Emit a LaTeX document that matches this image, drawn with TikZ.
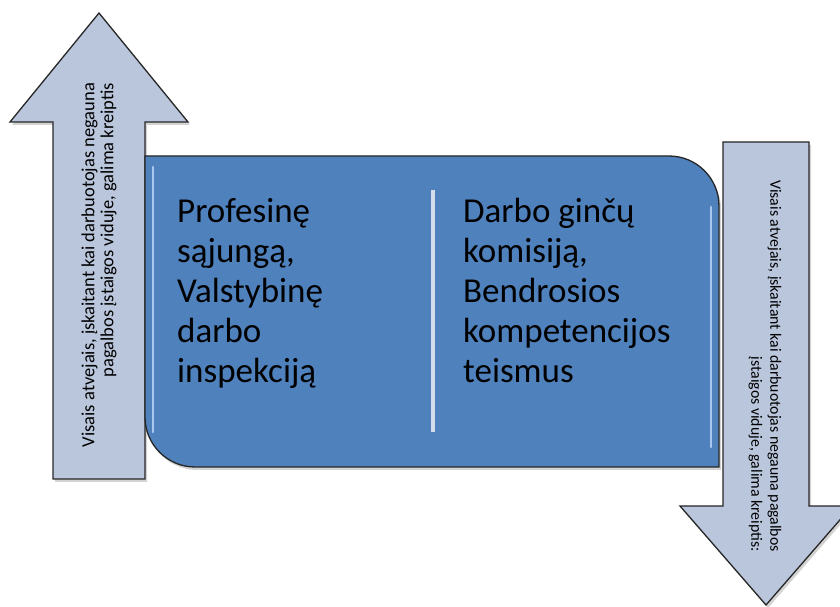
\documentclass[tikz,border=0pt]{standalone}
\usepackage{fontspec}
\setmainfont{Carlito}
\usetikzlibrary{positioning, shadows}
\definecolor{boxblue}{HTML}{4F81BD}
\definecolor{arrowgray}{HTML}{BAC6DC}
\definecolor{divider}{HTML}{D3DDEC}
\definecolor{glow}{HTML}{A8C8F0}
\tikzset{
bigarrow/.style={draw=black!85, line width=1.3pt, fill=arrowgray, drop shadow={opacity=0.35, shadow xshift=2pt, shadow yshift=-3pt}}, % the two wide arrows
maintext/.style={font=\fontsize{35}{40}\selectfont, align=left, inner sep=0pt, text=black}, % text inside the blue box
sidetext/.style={inner sep=0pt, align=right, text=black}, % text on the arrows
}

\begin{document}
\begin{tikzpicture}[x=1pt, y=1pt]
    \useasboundingbox (0,0) rectangle (840,607);

    % arrows
    \draw[bigarrow] (53,128) -- (53,485) -- (10,485) -- (99,594) -- (188,485) -- (145,485) -- (145,128) -- cycle;
    \draw[bigarrow] (723,465) -- (809,465) -- (809,101) -- (852,101) -- (766,2) -- (680,101) -- (723,101) -- cycle;

    % blue box
    \draw[draw=black!85, line width=1.3pt, fill=boxblue, drop shadow={opacity=0.35, shadow xshift=2pt, shadow yshift=-3pt}]
        (145,451) -- (669,451) arc[start angle=90, end angle=0, radius=50] -- (719,140) -- (195,140)
        arc[start angle=270, end angle=180, radius=50] -- cycle;
    \draw[glow, line width=2.5pt, line cap=round] (153,440) -- (153,175);
    \draw[glow, line width=2.5pt, line cap=round] (711,400) -- (711,160);

    % divider
    \coordinate (divtop) at (433,417);
    \coordinate (divbot) at (433,175);
    \draw[divider, line width=3.5pt] (divtop) -- (divbot);

    % texts (base = last line)
    \node[maintext, anchor=base west] (profesine) at (177,224) {Profesinę\\sąjungą,\\Valstybinę\\darbo\\inspekciją};
    \node[maintext, anchor=base west] (darbo) at (463,224) {Darbo ginčų\\komisiją,\\Bendrosios\\kompetencijos\\teismus};

    \node[sidetext, rotate=90, font=\fontsize{18.5}{19}\selectfont] (visaisL) at (99,342)
        {Visais atvejais, įskaitant kai darbuotojas negauna\\pagalbos įstaigos viduje, galima kreiptis};
    \node[sidetext, rotate=-90, font=\fontsize{15.8}{19}\selectfont] (visaisR) at (765,241)
        {Visais atvejais, įskaitant kai darbuotojas negauna pagalbos\\įstaigos viduje, galima kreiptis:};
\end{tikzpicture}
\end{document}
